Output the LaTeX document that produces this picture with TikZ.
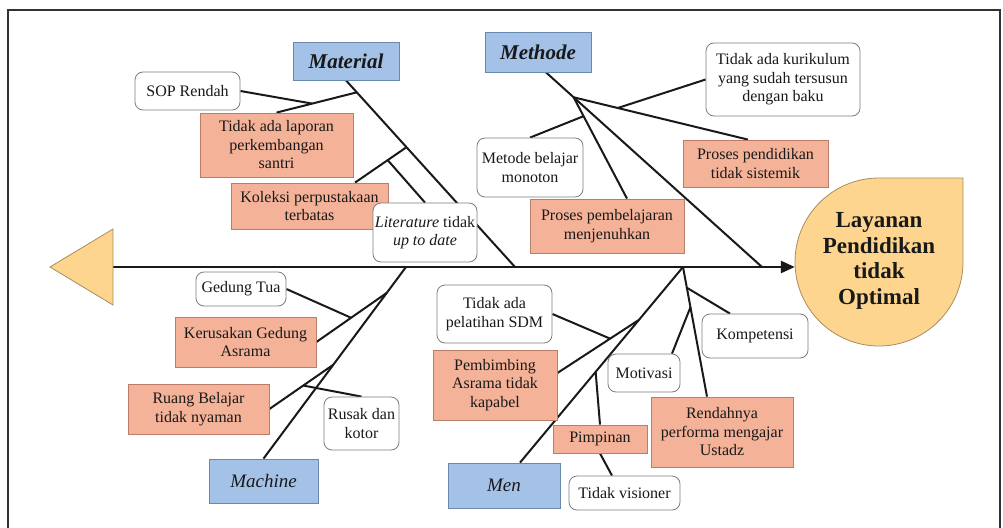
\documentclass[tikz,border=0pt]{standalone}
\usepackage{fontspec}
\setmainfont{LiberationSerif}[
  Extension=.ttf,
  UprightFont=*-Regular,
  BoldFont=*-Bold,
  ItalicFont=*-Italic,
  BoldItalicFont=*-BoldItalic]
\usetikzlibrary{arrows.meta,calc,backgrounds}

\definecolor{catblue}{RGB}{164,194,232}
\definecolor{catborder}{RGB}{105,135,175}
\definecolor{salmon}{RGB}{244,178,152}
\definecolor{salmonborder}{RGB}{185,125,105}
\definecolor{noteborder}{RGB}{125,125,125}
\definecolor{effect}{RGB}{253,213,143}
\definecolor{effectborder}{RGB}{170,140,95}
\definecolor{ink}{RGB}{25,25,25}

\begin{document}
\begin{tikzpicture}[x=1pt,y=-1pt,
  base/.style={font=\rmfamily\fontsize{16}{18.5}\selectfont, align=center, inner sep=0pt, text=ink},
  category/.style={base, rectangle, fill=catblue, draw=catborder, line width=0.8pt},
  cause/.style={base, rectangle, fill=salmon, draw=salmonborder, line width=0.8pt},
  note/.style={base, rectangle, rounded corners=8pt, fill=white, draw=noteborder, line width=0.8pt},
  bone/.style={line width=2pt, draw=ink},
  spine/.style={line width=2.6pt, draw=ink, -{Triangle[length=14pt,width=12pt]}},
  headfont/.style={font=\rmfamily\fontsize{21}{24}\selectfont\bfseries\itshape},
  subfont/.style={font=\rmfamily\fontsize{19}{22}\selectfont\itshape}
]
\useasboundingbox (0,0) rectangle (1003,527);

% outer frame
\draw[line width=2pt, draw=black!80] (8,530) -- (8,10) -- (1000,10) -- (1000,530);

% tail of the fish
\draw[fill=effect, draw=effectborder, line width=0.8pt] (50,267) -- (113,229) -- (113,305) -- cycle;
\coordinate (tail) at (113,267);

% head of the fish (effect)
\draw[fill=effect, draw=effectborder, line width=0.8pt]
  (963,178) -- (963,262) arc[start angle=0, end angle=270, radius=84] -- cycle;
\node[circle, minimum size=168pt, inner sep=0pt, align=center,
      font=\rmfamily\fontsize{23}{25.5}\selectfont\bfseries, text=ink] (res) at (879,261)
  {Layanan\\Pendidikan\\tidak\\Optimal};

% main categories
\node[category, headfont, minimum width=106pt, minimum height=38pt] (mat)  at (346,61)    {Material};
\node[category, headfont, minimum width=106pt, minimum height=40pt] (meth) at (538,52)    {Methode};
\node[category, subfont,  minimum width=109pt, minimum height=44pt] (mach) at (263.5,481) {Machine};
\node[category, subfont,  minimum width=112pt, minimum height=45pt] (men)  at (504,485.5) {Men};

% Material causes
\node[note,  minimum width=105pt, minimum height=38pt] (sop) at (187.5,91)  {SOP Rendah};
\node[cause, minimum width=153pt, minimum height=64pt] (lap) at (276.5,145) {Tidak ada laporan\\perkembangan\\santri};
\node[cause, minimum width=157pt, minimum height=46pt] (kol) at (309.5,206) {Koleksi perpustakaan\\terbatas};
\node[note,  minimum width=104pt, minimum height=59pt] (lit) at (425,232.5) {\textit{Literature} tidak\\\textit{up to date}};

% Methode causes
\node[note,  minimum width=154pt, minimum height=73pt] (kur)  at (783,79.5)  {Tidak ada kurikulum\\yang sudah tersusun\\dengan baku};
\node[note,  minimum width=106pt, minimum height=59pt] (metb) at (530,167.5) {Metode belajar\\monoton};
\node[cause, minimum width=154pt, minimum height=54pt] (pemb) at (607,226)   {Proses pembelajaran\\menjenuhkan};
\node[cause, minimum width=145pt, minimum height=47pt] (pend) at (755.5,163.5) {Proses pendidikan\\tidak sistemik};

% Machine causes
\node[note,  minimum width=90pt,  minimum height=34pt] (gt)    at (241,289)   {Gedung Tua};
\node[cause, minimum width=141pt, minimum height=50pt] (ker)   at (245.5,342) {Kerusakan Gedung\\Asrama};
\node[cause, minimum width=141pt, minimum height=50pt] (ruang) at (198.5,409) {Ruang Belajar\\tidak nyaman};
\node[note,  minimum width=75pt,  minimum height=53pt] (rusak) at (361.5,423.5) {Rusak dan\\kotor};

% Men causes
\node[note,  minimum width=115pt, minimum height=58pt] (sdm)  at (494.5,314) {Tidak ada\\pelatihan SDM};
\node[cause, minimum width=124pt, minimum height=70pt] (pbb)  at (495,385)   {Pembimbing\\Asrama tidak\\kapabel};
\node[cause, minimum width=94pt,  minimum height=28pt] (pim)  at (600,439)   {Pimpinan};
\node[note,  minimum width=111pt, minimum height=34pt] (vis)  at (624.5,493) {Tidak visioner};
\node[note,  minimum width=106pt, minimum height=44pt] (komp) at (755,336)   {Kompetensi};
\node[note,  minimum width=72pt,  minimum height=38pt] (mot)  at (644,373)   {Motivasi};
\node[cause, minimum width=142pt, minimum height=70pt] (rend) at (722,432)   {Rendahnya\\performa mengajar\\Ustadz};

\begin{pgfonlayer}{background}
  % spine
  \draw[spine] (tail) -- (tail -| res.west);

  % Material bone
  \coordinate (m0) at (515,267);
  \draw[bone] (mat.south) -- (m0);
  \coordinate (b1) at ($(mat.south)!0.064!(m0)$);
  \draw[bone] (b1) -- (lap.north);
  \draw[bone] (sop.east) -- ($(b1)!0.556!(lap.north)$);
  \coordinate (b2) at ($(mat.south)!0.358!(m0)$);
  \coordinate (kolt) at ($(kol.north)+(45.5,0)$);
  \draw[bone] (b2) -- (kolt);
  \draw[bone] ($(b2)!0.365!(kolt)$) -- (lit.north);

  % Methode bone
  \coordinate (e0) at (762,267);
  \coordinate (ms) at ($(meth.south)+(8,0)$);
  \draw[bone] (ms) -- (e0);
  \coordinate (p) at ($(ms)!0.128!(e0)$);
  \coordinate (pendt) at ($(pend.north)+(-7.5,0)$);
  \draw[bone] (p) -- (pendt);
  \draw[bone] ($(p)!0.253!(pendt)$) -- (kur.west);
  \coordinate (pembt) at ($(pemb.north)+(20,0)$);
  \draw[bone] (p) -- (pembt);
  \draw[bone] ($(p)!0.186!(pembt)$) -- (metb.north);

  % Machine bone
  \coordinate (k0) at (406,267);
  \draw[bone] (k0) -- (mach.north);
  \coordinate (k1) at ($(k0)!0.135!(mach.north)$);
  \draw[bone] (k1) -- (ker.east);
  \draw[bone] (gt.east) -- ($(k1)!0.507!(ker.east)$);
  \coordinate (k2) at ($(k0)!0.51!(mach.north)$);
  \draw[bone] (k2) -- (ruang.east);
  \draw[bone] ($(k2)!0.47!(ruang.east)$) -- (rusak.north);

  % Men bone
  \coordinate (n0) at (683,267);
  \coordinate (mt) at ($(men.north)+(16,0)$);
  \draw[bone] (n0) -- (mt);
  \coordinate (n1) at ($(n0)!0.27!(mt)$);
  \coordinate (pbbe) at ($(pbb.east)+(0,-12)$);
  \draw[bone] (n1) -- (pbbe);
  \draw[bone] (sdm.east) -- ($(n1)!0.354!(pbbe)$);
  \draw[bone] ($(n0)!0.536!(mt)$) -- (pim.north);
  \draw[bone] (pim.south) -- ($(vis.north)+(-12.5,0)$);
  \coordinate (rt) at ($(rend.north)+(-15,0)$);
  \draw[bone] (n0) -- (rt);
  \draw[bone] ($(n0)!0.16!(rt)$) -- ($(komp.north)+(-25,0)$);
  \draw[bone] ($(n0)!0.31!(rt)$) -- ($(mot.north)+(28,0)$);
\end{pgfonlayer}
\end{tikzpicture}
\end{document}
